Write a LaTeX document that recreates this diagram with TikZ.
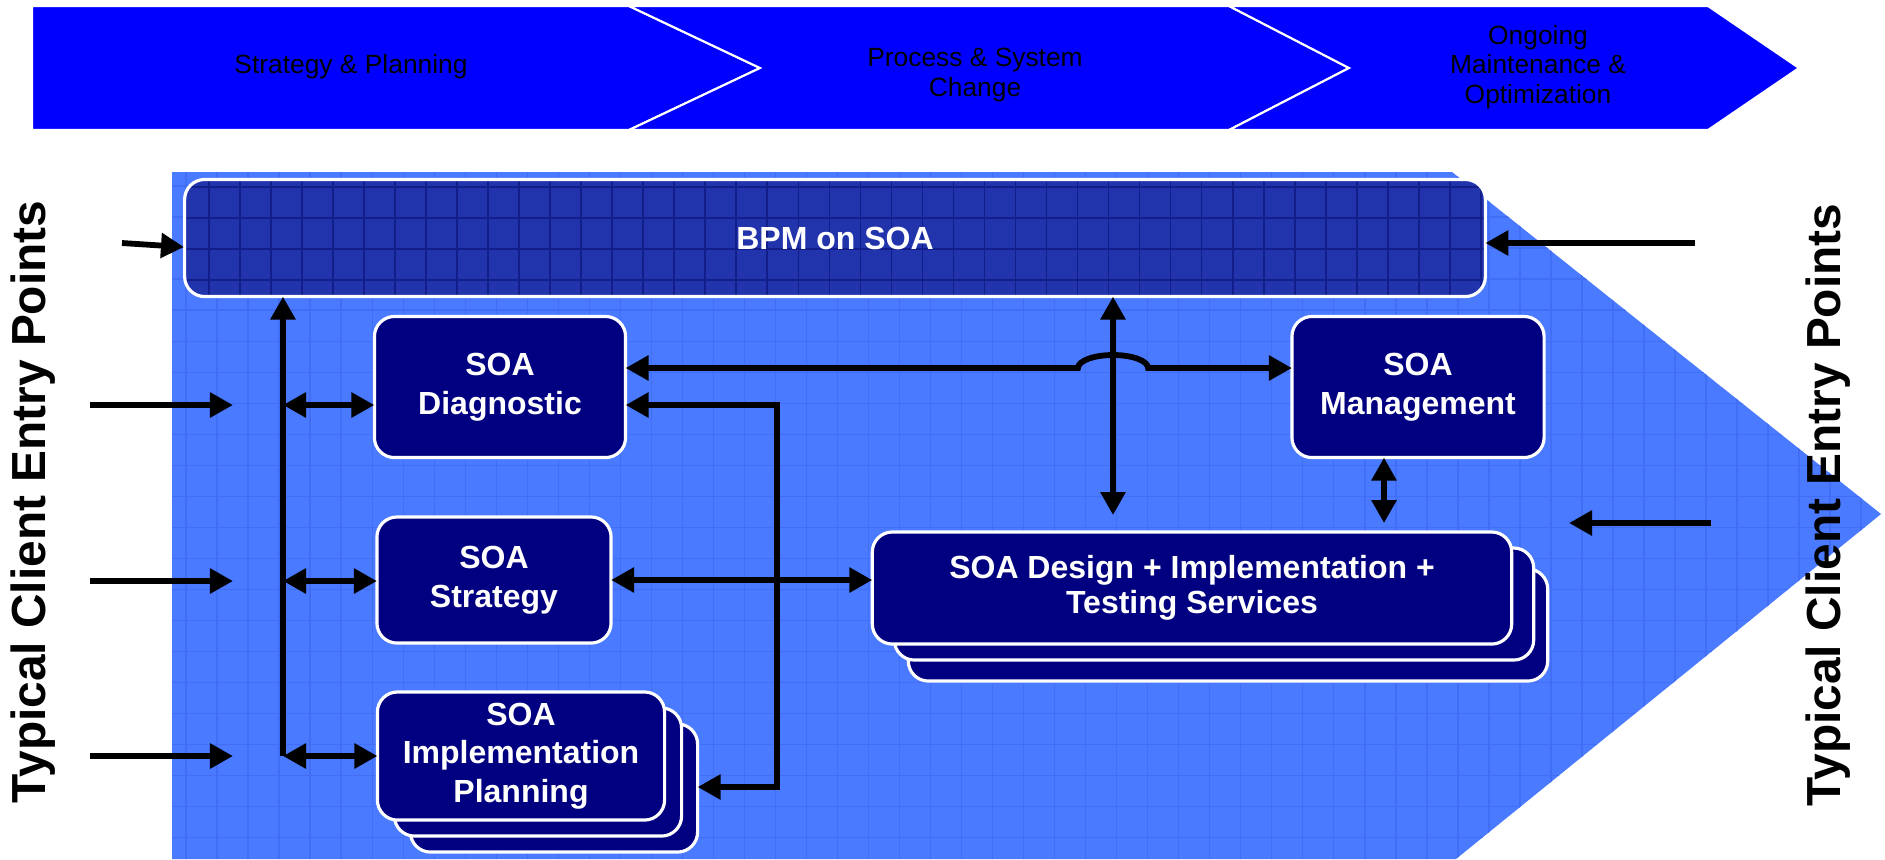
\documentclass[tikz,border=0pt]{standalone}
\usepackage{fontspec}
\setmainfont{Liberation Sans}
\usepackage{tikz}
\usetikzlibrary{arrows.meta}

\definecolor{banner}{RGB}{0,0,255}
\definecolor{field}{RGB}{74,122,255}
\definecolor{fieldline}{RGB}{66,110,246}
\definecolor{bpmblue}{RGB}{34,52,172}
\definecolor{bpmline}{RGB}{18,30,138}
\definecolor{navy}{RGB}{0,0,128}

\tikzset{
  soabox/.style={draw=white, line width=0.9pt, fill=navy, rounded corners=0.2cm,
    text=white, align=center, inner sep=0pt, outer sep=0pt,
    font=\bfseries\fontsize{9.1}{11}\selectfont},
  flow/.style={-{Triangle[length=0.23cm,width=0.24cm]}, line width=1.65pt, black},
  twoway/.style={flow, {Triangle[length=0.23cm,width=0.24cm]}-{Triangle[length=0.23cm,width=0.24cm]}},
  phase/.style={fill=banner, draw=white, line width=0.6pt},
  phasetext/.style={align=center, font=\fontsize{7.5}{8.3}\selectfont},
  entrytext/.style={rotate=90, font=\bfseries\fontsize{13.6}{16}\selectfont}
}

\begin{document}
\begin{tikzpicture}[x=0.01cm, y=-0.01cm]
  \useasboundingbox (0,0) rectangle (1885,859);

  % phases along the top
  \path[phase] (32,6) -- (629,6) -- (760,68) -- (629,130) -- (32,130) -- cycle;
  \path[phase] (629,6) -- (1229,6) -- (1349,68) -- (1229,130) -- (629,130) -- (760,68) -- cycle;
  \path[phase] (1229,6) -- (1708,6) -- (1799,68) -- (1708,130) -- (1229,130) -- (1349,68) -- cycle;
  \node[phasetext] (ph1) at (351,67) {Strategy \& Planning};
  \node[phasetext] (ph2) at (975,75) {Process \& System\\Change};
  \node[phasetext] (ph3) at (1538,67) {Ongoing\\Maintenance \&\\Optimization};

  % background arrow
  \path[fill=field, path picture={
      \draw[fieldline, line width=0.4pt, step=0.31cm]
        (path picture bounding box.south west) grid (path picture bounding box.north east);}]
    (172,172) -- (1452,172) -- (1881,514) -- (1456,859) -- (172,859) -- cycle;

  % boxes
  \node[soabox, fill=bpmblue, minimum width=13cm, minimum height=1.17cm, path picture={
      \draw[bpmline, line width=0.5pt, step=0.31cm]
        (path picture bounding box.south west) grid (path picture bounding box.north east);}]
    (bpm) at (835,238) {BPM on SOA};
  \node[soabox, minimum width=2.51cm, minimum height=1.41cm] (diag) at (500,387) {SOA\\Diagnostic};
  \node[soabox, minimum width=2.52cm, minimum height=1.41cm] (mgmt) at (1418,387) {SOA\\Management};
  \node[soabox, minimum width=2.34cm, minimum height=1.26cm] (strat) at (494,580) {SOA\\Strategy};
  \node[soabox, minimum width=2.87cm, minimum height=1.28cm] (plan3) at (554,788) {};
  \node[soabox, minimum width=2.87cm, minimum height=1.28cm] (plan2) at (538,772) {};
  \node[soabox, minimum width=2.87cm, minimum height=1.28cm] (plan) at (521,756) {SOA\\Implementation\\Planning};
  \node[soabox, minimum width=6.39cm, minimum height=1.12cm] (design3) at (1228,625) {};
  \node[soabox, minimum width=6.39cm, minimum height=1.12cm] (design2) at (1214,604) {};
  \node[soabox, minimum width=6.39cm, minimum height=1.12cm, font=\bfseries\fontsize{9.1}{10}\selectfont]
    (design) at (1192,588) {SOA Design + Implementation +\\Testing Services};

  % entry points
  \node[entrytext] (leftlabel) at (33,502) {Typical Client Entry Points};
  \node[entrytext] (rightlabel) at (1828,505) {Typical Client Entry Points};

  \coordinate (inTop) at (122,243);
  \coordinate (toTop) at (184,247);
  \coordinate (inA) at (90,405);
  \coordinate (toA) at (233,405);
  \coordinate (inB) at (90,581);
  \coordinate (toB) at (233,581);
  \coordinate (inC) at (90,756);
  \coordinate (toC) at (233,756);
  \coordinate (inR) at (1695,243);
  \coordinate (inR2) at (1711,523);
  \coordinate (toR2) at (1569,523);
  \draw[flow] (inTop) -- (toTop);
  \draw[flow] (inA) -- (toA);
  \draw[flow] (inB) -- (toB);
  \draw[flow] (inC) -- (toC);
  \draw[flow] (inR) -- (inR -| bpm.east);
  \draw[flow] (inR2) -- (toR2);

  % links between the services
  \coordinate (jA) at (283,405);
  \coordinate (jB) at (283,581);
  \coordinate (jC) at (283,756);
  \draw[flow] (jC) -- (jC |- bpm.south);
  \draw[twoway] (jA) -- (jA -| diag.west);
  \draw[twoway] (jB) -- (jB -| strat.west);
  \draw[twoway] (jC) -- (jC -| plan.west);

  \coordinate (vd) at (1113,515);
  \coordinate (md) at (1384,523);
  \draw[twoway] (vd |- bpm.south) -- (vd);
  \draw[twoway] (md |- mgmt.south) -- (md);

  \coordinate (hopL) at (1078,368);
  \draw[twoway] (hopL -| diag.east) -- (hopL)
    arc[start angle=180, end angle=0, x radius=0.35cm, y radius=0.13cm] -- (hopL -| mgmt.west);

  \draw[twoway] (strat.east) -- (strat.east -| design.west);

  \coordinate (loopT) at (777,405);
  \coordinate (loopB) at (777,787);
  \draw[twoway] (loopT -| diag.east) -- (loopT) -- (loopB) -- (loopB -| plan3.east);
\end{tikzpicture}
\end{document}
